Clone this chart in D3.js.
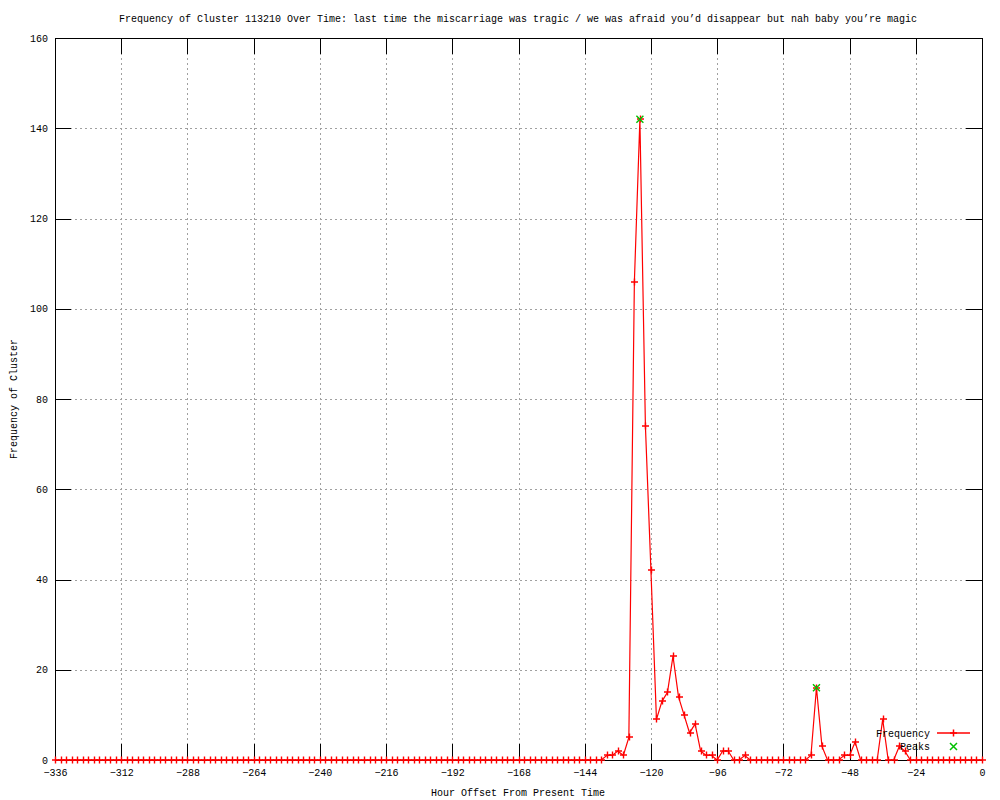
<!DOCTYPE html>
<html>
<head>
<meta charset="utf-8">
<script src="https://cdn.jsdelivr.net/npm/d3@7"></script>
<style>
  html, body { margin: 0; padding: 0; background: #fff; }
  svg { display: block; font-family: "Liberation Mono", "DejaVu Sans Mono", monospace; }
</style>
</head>
<body>
<svg id="chart" width="1000" height="800"></svg>
<script>
// ---- data ----
const titleText = "Frequency of Cluster 113210 Over Time: last time the miscarriage was tragic / we was afraid you\u2019d disappear but nah baby you\u2019re magic";
const xAxisTitle = "Hour Offset From Present Time";
const yAxisTitle = "Frequency of Cluster";

const hours = [
  -336,-334,-332,-330,-328,-326,-324,-322,-320,-318,-316,-314,-312,-310,-308,-306,-304,-302,-300,-298,
  -296,-294,-292,-290,-288,-286,-284,-282,-280,-278,-276,-274,-272,-270,-268,-266,-264,-262,-260,-258,
  -256,-254,-252,-250,-248,-246,-244,-242,-240,-238,-236,-234,-232,-230,-228,-226,-224,-222,-220,-218,
  -216,-214,-212,-210,-208,-206,-204,-202,-200,-198,-196,-194,-192,-190,-188,-186,-184,-182,-180,-178,
  -176,-174,-172,-170,-168,-166,-164,-162,-160,-158,-156,-154,-152,-150,-148,-146,-144,-142,-140,-138,
  -136,-134,-132,-130,-128,-126,-124,-122,-120,-118,-116,-114,-112,-110,-108,-106,-104,-102,-100,-98,
  -96,-94,-92,-90,-88,-86,-84,-82,-80,-78,-76,-74,-72,-70,-68,-66,-64,-62,-60,-58,
  -56,-54,-52,-50,-48,-46,-44,-42,-40,-38,-36,-34,-32,-30,-28,-26,-24,-22,-20,-18,
  -16,-14,-12,-10,-8,-6,-4,-2,0
];
const frequency = [
  0,0,0,0,0,0,0,0,0,0,0,0,0,0,0,0,0,0,0,0,
  0,0,0,0,0,0,0,0,0,0,0,0,0,0,0,0,0,0,0,0,
  0,0,0,0,0,0,0,0,0,0,0,0,0,0,0,0,0,0,0,0,
  0,0,0,0,0,0,0,0,0,0,0,0,0,0,0,0,0,0,0,0,
  0,0,0,0,0,0,0,0,0,0,0,0,0,0,0,0,0,0,0,0,
  1,1,2,1,5,106,142,74,42,9,13,15,23,14,10,6,8,2,1,1,
  0,2,2,0,0,1,0,0,0,0,0,0,0,0,0,0,0,1,16,3,
  0,0,0,1,1,4,0,0,0,0,9,0,0,3,2,0,0,0,0,0,
  0,0,0,0,0,0,0,0,0
];
const peakHours = [-124, -60];
const peakValues = [142, 16];

const xTicks = [-336,-312,-288,-264,-240,-216,-192,-168,-144,-120,-96,-72,-48,-24,0];
const yTicks = [0,20,40,60,80,100,120,140,160];
const legendLabels = ["Frequency", "Peaks"];

// ---- layout ----
const L = 55, R = 982, T = 38, B = 760;
const svg = d3.select("#chart");
const x = d3.scaleLinear().domain([-336, 0]).range([L, R]);
const y = d3.scaleLinear().domain([0, 160]).range([B, T]);
const TICK = 16;
const red = "#ff0000", green = "#00c000";

svg.append("rect").attr("width", 1000).attr("height", 800).attr("fill", "#fff");

// grid
const grid = svg.append("g").attr("stroke", "#a0a0a0").attr("stroke-width", 1)
  .attr("stroke-dasharray", "2,3").attr("shape-rendering", "crispEdges");
grid.selectAll(".gx").data(xTicks).join("line")
  .attr("x1", d => Math.round(x(d)) + 0.5).attr("x2", d => Math.round(x(d)) + 0.5)
  .attr("y1", T).attr("y2", B);
grid.selectAll(".gy").data(yTicks).join("line")
  .attr("y1", d => Math.round(y(d)) + 0.5).attr("y2", d => Math.round(y(d)) + 0.5)
  .attr("x1", L).attr("x2", R);

// axes (ticks inward, mirrored)
function styleAxis(g) {
  g.select(".domain").remove();
  g.selectAll(".tick line").attr("stroke", "#000").attr("shape-rendering", "crispEdges");
  g.selectAll(".tick text").attr("fill", "#000").style("font-size", "10px")
    .style("font-family", "'Liberation Mono', 'DejaVu Sans Mono', monospace");
}
const xb = svg.append("g").attr("transform", `translate(0,${B})`)
  .call(d3.axisBottom(x).tickValues(xTicks).tickFormat(d3.format("d")).tickSizeInner(-TICK).tickSizeOuter(0).tickPadding(8));
styleAxis(xb);
xb.selectAll(".tick text").attr("dy", "0.71em").attr("y", 9);
const xt = svg.append("g").attr("transform", `translate(0,${T})`)
  .call(d3.axisTop(x).tickValues(xTicks).tickFormat("").tickSizeInner(-TICK).tickSizeOuter(0));
styleAxis(xt);
const yl = svg.append("g").attr("transform", `translate(${L},0)`)
  .call(d3.axisLeft(y).tickValues(yTicks).tickFormat(d3.format("d")).tickSizeInner(-TICK).tickSizeOuter(0).tickPadding(7));
styleAxis(yl);
yl.selectAll(".tick text").attr("x", -7);
const yr = svg.append("g").attr("transform", `translate(${R},0)`)
  .call(d3.axisRight(y).tickValues(yTicks).tickFormat("").tickSizeInner(-TICK).tickSizeOuter(0));
styleAxis(yr);

// border
svg.append("rect").attr("x", L + 0.5).attr("y", T + 0.5).attr("width", R - L).attr("height", B - T)
  .attr("fill", "none").attr("stroke", "#000").attr("stroke-width", 1).attr("shape-rendering", "crispEdges");

// data line
const pts = hours.map((h, i) => [h, frequency[i]]);
const line = d3.line().x(d => x(d[0])).y(d => y(d[1]));
svg.append("path").datum(pts).attr("d", line).attr("fill", "none").attr("stroke", red).attr("stroke-width", 1.2);

// plus markers
const S = 3.5;
const plusPath = (cx, cy) => `M${cx - S},${cy}H${cx + S}M${cx},${cy - S}V${cy + S}`;
const crossPath = (cx, cy) => `M${cx - S},${cy - S}L${cx + S},${cy + S}M${cx - S},${cy + S}L${cx + S},${cy - S}`;
svg.append("g").selectAll("path").data(pts).join("path")
  .attr("d", d => plusPath(Math.round(x(d[0])) + 0.5, Math.round(y(d[1]))))
  .style("stroke", red).style("stroke-width", 1.4).style("fill", "none");

// peaks
const peaks = peakHours.map((h, i) => [h, peakValues[i]]);
svg.append("g").selectAll("path").data(peaks).join("path")
  .attr("d", d => crossPath(x(d[0]), y(d[1])))
  .style("stroke", green).style("stroke-width", 1.4).style("fill", "none");

// legend
const legX = 930, legY = [733, 746];
const leg = svg.append("g").style("font-size", "10px");
leg.append("text").attr("x", legX).attr("y", legY[0]).attr("dy", "0.35em").attr("text-anchor", "end")
  .style("fill", "#000").text(legendLabels[0]);
leg.append("path").attr("d", `M937,${legY[0]}H970`)
  .style("stroke", red).style("stroke-width", 1.5).style("fill", "none");
leg.append("path").attr("d", plusPath(953.5, legY[0]))
  .style("stroke", red).style("stroke-width", 1.5).style("fill", "none");
leg.append("text").attr("x", legX).attr("y", legY[1]).attr("dy", "0.35em").attr("text-anchor", "end")
  .style("fill", "#000").text(legendLabels[1]);
leg.append("path").attr("d", crossPath(953.5, legY[1] + 0.5))
  .style("stroke", green).style("stroke-width", 1.5).style("fill", "none");

// titles
svg.append("text").attr("x", 518).attr("y", 18).attr("dy", "0.35em").attr("text-anchor", "middle")
  .style("font-size", "10px").text(titleText);
svg.append("text").attr("x", 518).attr("y", 792).attr("dy", "0.35em").attr("text-anchor", "middle")
  .style("font-size", "10px").text(xAxisTitle);
svg.append("text").attr("transform", "translate(13,399) rotate(-90)").attr("dy", "0.35em").attr("text-anchor", "middle")
  .style("font-size", "10px").text(yAxisTitle);
</script>
</body>
</html>
